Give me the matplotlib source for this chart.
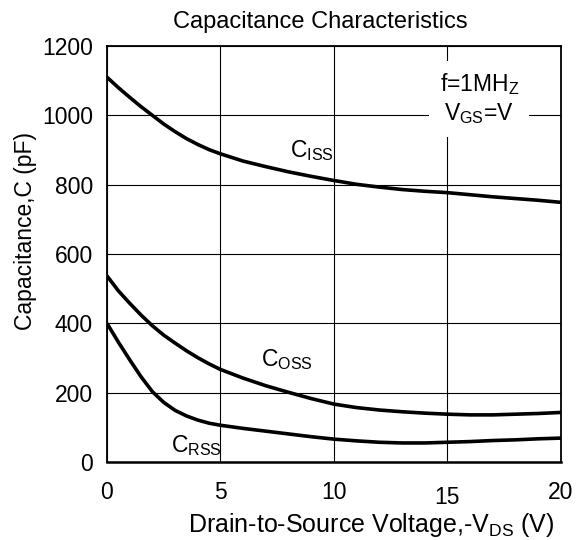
import matplotlib
matplotlib.use('Agg')
import matplotlib.pyplot as plt
from matplotlib.transforms import ScaledTranslation

plt.rcParams['font.family'] = ['Liberation Sans', 'DejaVu Sans']
plt.rcParams['mathtext.default'] = 'regular'

# 드레인-소스 전압 (V)
vds = [0, 0.5, 1, 1.5, 2, 2.5, 3, 3.5, 4, 4.5, 5, 6, 7, 8, 9, 10,
       11, 12, 13, 14, 15, 16, 17, 18, 19, 20]

# 정전용량 (pF)
ciss = [1110, 1080, 1052, 1025, 1000, 975, 953, 933, 916, 901, 889, 868, 852, 837, 824, 812,
        801, 793, 786, 781, 777, 771, 765, 760, 755, 749]
coss = [537, 494, 458, 424, 393, 366, 343, 321, 301, 283, 267, 242, 220, 201, 183, 167,
        157, 150, 145, 141, 138, 136, 136, 138, 140, 143]
crss = [400, 346, 295, 246, 203, 172, 149, 133, 121, 112, 106, 97, 89, 81, 73, 66,
        61, 57, 55, 55, 57, 59, 62, 64, 67, 69]

x_ticks = [0, 5, 10, 15, 20]
y_ticks = [0, 200, 400, 600, 800, 1000, 1200]

fig = plt.figure(figsize=(5.83, 5.4), dpi=100)
ax = fig.add_axes([0.1835, 0.1444, 0.7787, 0.7704])

for series in (ciss, coss, crss):
    ax.plot(vds, series, color='black', linewidth=2.6, zorder=3,
            solid_joinstyle='round', solid_capstyle='butt')

ax.set_xlim(0, 20)
ax.set_ylim(0, 1200)
ax.set_xticks(x_ticks)
ax.set_yticks(y_ticks)
ax.tick_params(axis='both', length=0, labelsize=16.5)
ax.tick_params(axis='x', pad=14)
ax.tick_params(axis='y', pad=10)
ax.grid(True, color='black', linewidth=0.8, zorder=1)
ax.set_axisbelow(True)
for side in ax.spines.values():
    side.set_linewidth(1.3)
ax.spines['bottom'].set_linewidth(1.8)

# 15 눈금 라벨은 원본처럼 조금 아래로
for lbl in ax.get_xticklabels():
    if lbl.get_text() == '15':
        lbl.set_transform(lbl.get_transform() + ScaledTranslation(0, -5 / 100, fig.dpi_scale_trans))

ax.set_title('Capacitance Characteristics', fontsize=17, pad=13, x=0.469)
ax.set_xlabel('Drain-to-Source Voltage,-V$_{DS}$ (V)', fontsize=18)
ax.xaxis.set_label_coords(0.582, -0.152)
ax.xaxis.label.set_va('center')
ax.set_ylabel('Capacitance,C (pF)', fontsize=16.5)
ax.yaxis.set_label_coords(-0.18, 0.555)
ax.yaxis.label.set_va('center')

ax.text(8.05, 880, 'C$_{ISS}$', fontsize=16.5, ha='left', va='baseline')
ax.text(6.8, 277, 'C$_{OSS}$', fontsize=16.5, ha='left', va='baseline')
ax.text(2.8, 30, 'C$_{RSS}$', fontsize=16.5, ha='left', va='baseline')

# 조건 표기 (흰 배경으로 격자선 가림)
box = dict(boxstyle='square,pad=0.45', facecolor='white', edgecolor='none')
ax.text(16.4, 1048, 'f=1MH$_Z$\nV$_{GS}$=V', fontsize=16.5, ha='center', va='center',
        multialignment='center', linespacing=1.25, bbox=box, zorder=4)

plt.savefig('out.png', dpi=100)
